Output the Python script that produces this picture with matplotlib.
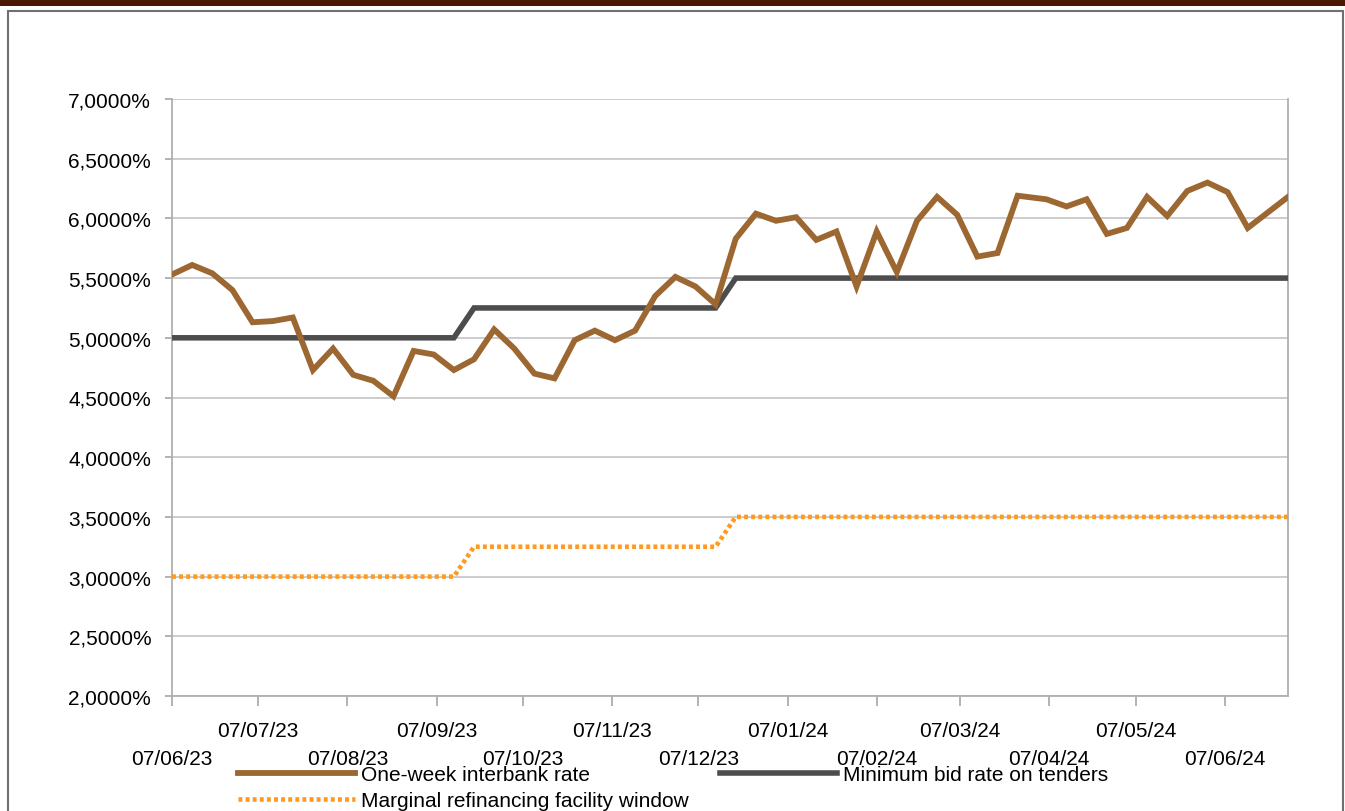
import matplotlib
matplotlib.use("Agg")
import matplotlib.pyplot as plt
import matplotlib.dates as mdates
from matplotlib.ticker import FuncFormatter, MultipleLocator
from matplotlib.patches import Rectangle
import datetime as dt

# ---------------- data ----------------
dates = [
    "2023-06-07", "2023-06-14", "2023-06-21", "2023-06-28", "2023-07-05", "2023-07-12",
    "2023-07-19", "2023-07-26", "2023-08-02", "2023-08-09", "2023-08-16", "2023-08-23",
    "2023-08-30", "2023-09-06", "2023-09-13", "2023-09-20", "2023-09-27", "2023-10-04",
    "2023-10-11", "2023-10-18", "2023-10-25", "2023-11-01", "2023-11-08", "2023-11-15",
    "2023-11-22", "2023-11-29", "2023-12-06", "2023-12-13", "2023-12-20", "2023-12-27",
    "2024-01-03", "2024-01-10", "2024-01-17", "2024-01-24", "2024-01-31", "2024-02-07",
    "2024-02-14", "2024-02-21", "2024-02-28", "2024-03-06", "2024-03-13", "2024-03-20",
    "2024-03-27", "2024-04-06", "2024-04-13", "2024-04-20", "2024-04-27", "2024-05-04",
    "2024-05-11", "2024-05-18", "2024-05-25", "2024-06-01", "2024-06-08", "2024-06-15",
    "2024-06-22", "2024-06-29",
]

interbank = [
    5.53, 5.61, 5.54, 5.40, 5.13, 5.14, 5.17, 4.73, 4.91, 4.69, 4.64, 4.51,
    4.89, 4.86, 4.73, 4.82, 5.07, 4.91, 4.70, 4.66, 4.98, 5.06, 4.98, 5.06,
    5.35, 5.51, 5.43, 5.28, 5.83, 6.04, 5.98, 6.01, 5.82, 5.89, 5.43, 5.89,
    5.55, 5.98, 6.18, 6.03, 5.68, 5.71, 6.19, 6.16, 6.10, 6.16, 5.87, 5.92,
    6.18, 6.02, 6.23, 6.30, 6.22, 5.92, 6.05, 6.18,
]

min_bid = [
    5.00, 5.00, 5.00, 5.00, 5.00, 5.00, 5.00, 5.00, 5.00, 5.00, 5.00, 5.00,
    5.00, 5.00, 5.00, 5.25, 5.25, 5.25, 5.25, 5.25, 5.25, 5.25, 5.25, 5.25,
    5.25, 5.25, 5.25, 5.25, 5.50, 5.50, 5.50, 5.50, 5.50, 5.50, 5.50, 5.50,
    5.50, 5.50, 5.50, 5.50, 5.50, 5.50, 5.50, 5.50, 5.50, 5.50, 5.50, 5.50,
    5.50, 5.50, 5.50, 5.50, 5.50, 5.50, 5.50, 5.50,
]

marginal = [
    3.00, 3.00, 3.00, 3.00, 3.00, 3.00, 3.00, 3.00, 3.00, 3.00, 3.00, 3.00,
    3.00, 3.00, 3.00, 3.25, 3.25, 3.25, 3.25, 3.25, 3.25, 3.25, 3.25, 3.25,
    3.25, 3.25, 3.25, 3.25, 3.50, 3.50, 3.50, 3.50, 3.50, 3.50, 3.50, 3.50,
    3.50, 3.50, 3.50, 3.50, 3.50, 3.50, 3.50, 3.50, 3.50, 3.50, 3.50, 3.50,
    3.50, 3.50, 3.50, 3.50, 3.50, 3.50, 3.50, 3.50,
]

tick_dates = [
    "2023-06-07", "2023-07-07", "2023-08-07", "2023-09-07", "2023-10-07", "2023-11-07",
    "2023-12-07", "2024-01-07", "2024-02-07", "2024-03-07", "2024-04-07", "2024-05-07",
    "2024-06-07",
]
tick_labels = [
    "07/06/23", "07/07/23", "07/08/23", "07/09/23", "07/10/23", "07/11/23",
    "07/12/23", "07/01/24", "07/02/24", "07/03/24", "07/04/24", "07/05/24",
    "07/06/24",
]

series_labels = [
    "One-week interbank rate",
    "Minimum bid rate on tenders",
    "Marginal refinancing facility window",
]

# ---------------- style ----------------
plt.rcParams['font.family'] = ['Liberation Sans', 'DejaVu Sans']
FS = 15

W, H = 1345, 812
fig = plt.figure(figsize=(W / 100, H / 100), dpi=100)
fig.patch.set_facecolor('white')

# top dark band
fig.patches.append(Rectangle((0, 1 - 7 / H), 1, 7 / H, transform=fig.transFigure,
                             facecolor='#4A1A00', edgecolor='none', zorder=0))
# chart frame
fig.patches.append(Rectangle((8 / W, -0.05), (1343 - 8) / W, 1.05 - 12 / H,
                             transform=fig.transFigure, fill=False,
                             edgecolor='#707070', lw=1.5, zorder=1))

ax = fig.add_axes([172 / W, 1 - 697 / H, (1288 - 172) / W, (697 - 100) / H])

x = [dt.datetime.strptime(d, "%Y-%m-%d") for d in dates]
tx = [mdates.date2num(dt.datetime.strptime(d, "%Y-%m-%d")) for d in tick_dates]

c_brown = '#9C6731'
c_grey = '#4D4D4D'
c_orange = '#FF9A1F'

l_grey, = ax.plot(x, min_bid, color=c_grey, lw=4.0, solid_joinstyle='miter', zorder=3)
l_orange, = ax.plot(x, marginal, color=c_orange, lw=3.3, linestyle=(0, (0.85, 0.7)),
                    dash_capstyle='butt', zorder=3)
l_brown, = ax.plot(x, interbank, color=c_brown, lw=4.2, solid_joinstyle='miter', zorder=4)

ax.set_xlim(x[0], x[-1])
ax.set_ylim(2, 7)
ax.yaxis.set_major_locator(MultipleLocator(0.5))
ax.yaxis.set_major_formatter(FuncFormatter(lambda v, p: f"{v:.4f}%".replace('.', ',')))
ax.grid(axis='y', color='#C8C8C8', lw=1.3, zorder=0)
ax.set_axisbelow(True)

# alternating two-row x labels: even index lower row (major), odd index upper row (minor)
ax.set_xticks(tx[0::2], tick_labels[0::2])
ax.set_xticks(tx[1::2], tick_labels[1::2], minor=True)

ax.tick_params(axis='x', which='major', length=7, width=1.2, color='#A6A6A6',
               pad=31, labelsize=FS, labelcolor='black')
ax.tick_params(axis='x', which='minor', length=7, width=1.2, color='#A6A6A6',
               pad=11, labelsize=FS, labelcolor='black')
ax.tick_params(axis='y', length=5, width=1.2, color='#A6A6A6', pad=10,
               labelsize=FS, labelcolor='black')

for s in ['left', 'bottom', 'right']:
    ax.spines[s].set_color('#B0B0B0')
    ax.spines[s].set_linewidth(1.3)
ax.spines['top'].set_visible(False)

leg = fig.legend([l_brown, l_orange, l_grey],
                 [series_labels[0], series_labels[2], series_labels[1]],
                 ncol=2, loc='upper left',
                 bbox_to_anchor=(238 / W, 1 - 766 / H),
                 frameon=False, fontsize=FS, handlelength=5.6, handletextpad=0.3,
                 columnspacing=1.5, labelspacing=0.36, borderpad=0, borderaxespad=0)

fig.savefig("out.png", dpi=100)
